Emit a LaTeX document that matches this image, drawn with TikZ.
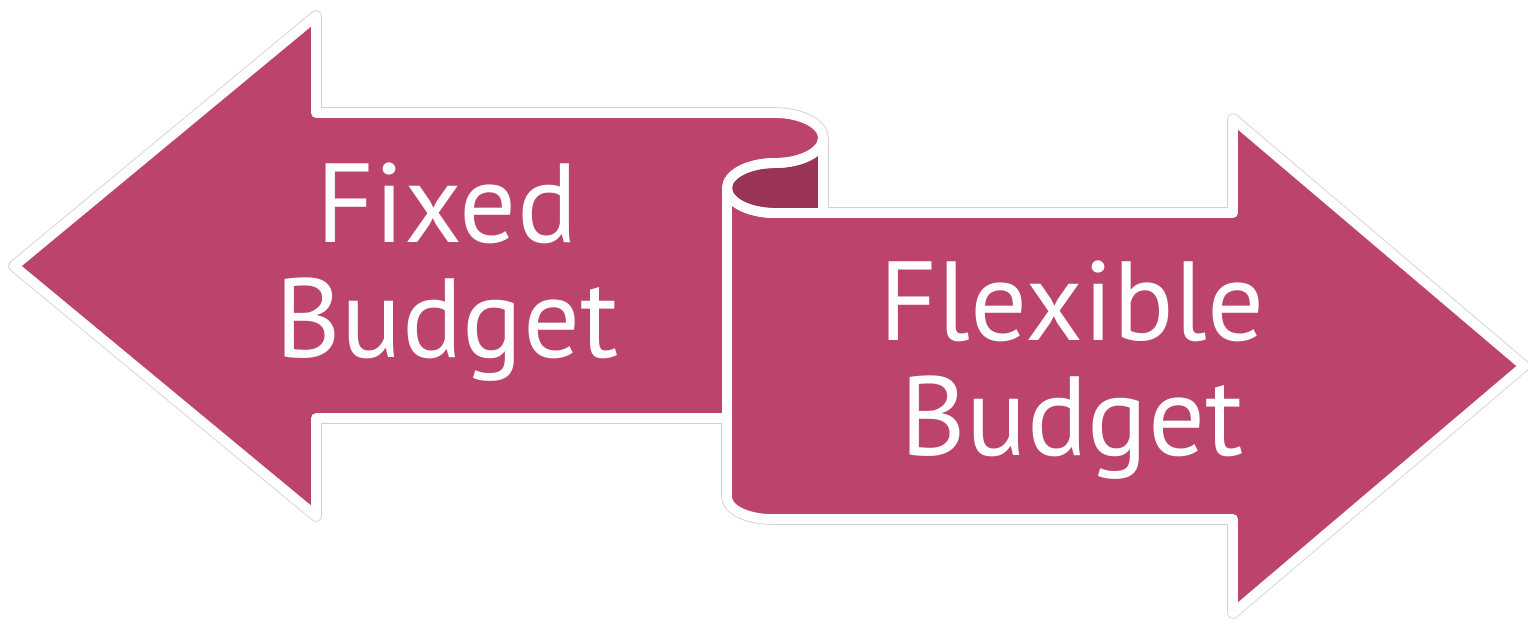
\documentclass[tikz,border=0pt]{standalone}
\usepackage{fontspec}
\setmainfont{PT Sans}
\definecolor{berry}{HTML}{BC446B}
\definecolor{berrydark}{HTML}{9A3457}
\definecolor{rim}{HTML}{D2D2D2}

\begin{document}
\begin{tikzpicture}[x=0.01cm,y=-0.01cm,line join=round,
  rimline/.style={draw=rim,line width=3.3pt},
  bandline/.style={draw=white,line width=2.8pt},
  tagtext/.style={text=white,align=center,font=\fontsize{32}{32.7}\selectfont}]

\useasboundingbox (0,0) rectangle (1528,623);

% outlines of the two arrows and the rolled part
\def\fixedpath{(14,266) -- (316,16) -- (316,113) -- (775,113)
  arc[start angle=-90,end angle=90,x radius=48,y radius=25]
  arc[start angle=-90,end angle=-180,x radius=48,y radius=25]
  -- (727,418) -- (316,418) -- (316,516) -- cycle}
\def\flexpath{(727,188) -- (727,497)
  arc[start angle=180,end angle=90,x radius=45,y radius=22]
  -- (1233,519) -- (1233,613) -- (1524,366) -- (1233,119) -- (1233,213) -- (775,213)
  arc[start angle=90,end angle=180,x radius=48,y radius=25] -- cycle}
\def\rollpath{(823,138) -- (823,213) -- (775,213)
  arc[start angle=90,end angle=180,x radius=48,y radius=25]
  arc[start angle=180,end angle=270,x radius=48,y radius=25]
  arc[start angle=90,end angle=0,x radius=48,y radius=25] -- cycle}

% thin grey rim first
\path[rimline] \flexpath;
\path[rimline] \rollpath;
\path[rimline] \fixedpath;

% fills
\fill[berry] \flexpath;
\fill[berrydark] \rollpath;
\fill[berry] \fixedpath;

% white bands
\path[bandline] \flexpath;
\path[bandline] \rollpath;
\path[bandline] \fixedpath;

% texts
\node[tagtext] (fixed) at (447,272) {Fixed\\Budget};
\node[tagtext] (flexible) at (1072,370) {Flexible\\Budget};

\end{tikzpicture}
\end{document}
